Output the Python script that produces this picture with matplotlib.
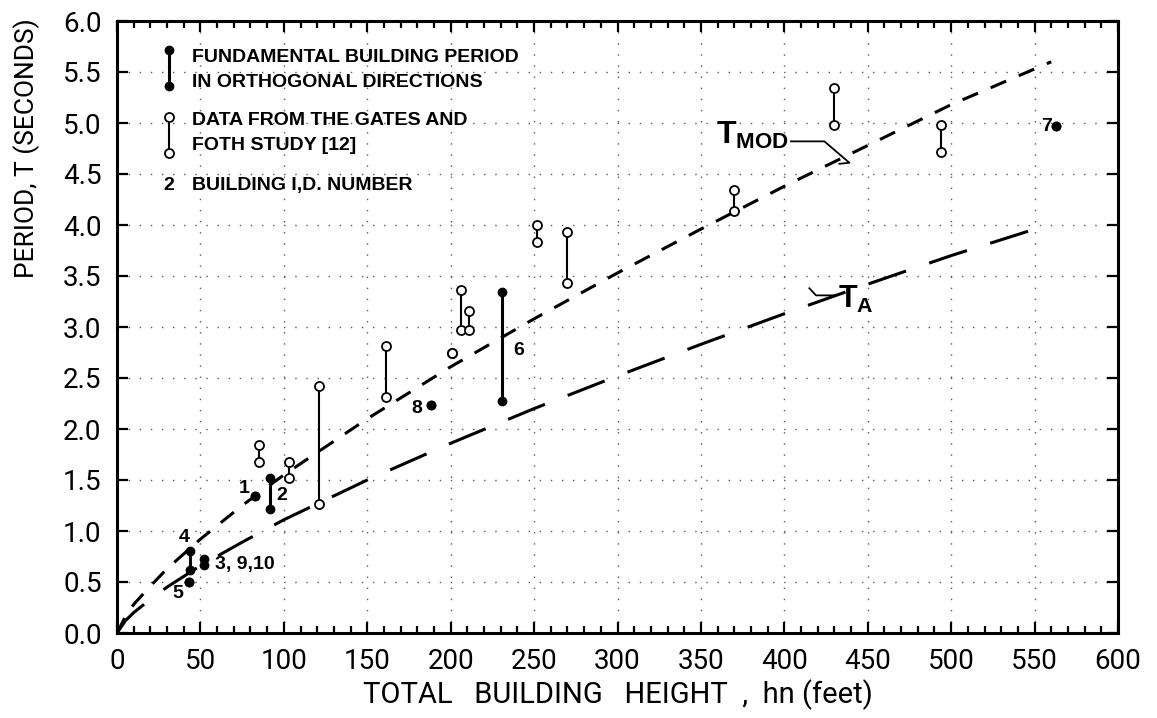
import matplotlib
matplotlib.use("Agg")
import matplotlib.pyplot as plt
from matplotlib.ticker import MultipleLocator

plt.rcParams["mathtext.fontset"] = "custom"
plt.rcParams["mathtext.bf"] = "Liberation Sans:bold"
plt.rcParams["mathtext.rm"] = "Liberation Sans"

# ---------------- data ----------------
# Curves (height in feet, period in seconds)
tmod_h = [0, 5, 10, 20, 30, 50, 75, 100, 150, 200, 250, 300, 350, 400, 450, 500, 560]
tmod_t = [0, 0.16, 0.28, 0.46, 0.63, 0.92, 1.25, 1.55, 2.10, 2.61, 3.08, 3.53, 3.96, 4.38, 4.78, 5.18, 5.60]
ta_h = [0, 5, 10, 20, 30, 50, 75, 100, 150, 200, 250, 300, 350, 400, 450, 500, 556]
ta_t = [0, 0.12, 0.20, 0.33, 0.45, 0.66, 0.89, 1.11, 1.50, 1.86, 2.20, 2.52, 2.83, 3.13, 3.42, 3.70, 3.99]

# Fundamental building periods in orthogonal directions (filled)
bld_ids = ["1", "2", "3, 9,10", "4", "5", "6", "7", "8"]
bld_h = [83, 92, 52, 44, 43, 231, 563, 188]
bld_t1 = [1.34, 1.52, 0.73, 0.80, 0.50, 3.34, 4.97, 2.24]
bld_t2 = [1.34, 1.22, 0.67, 0.62, 0.50, 2.27, 4.97, 2.24]

# Gates and Foth study (open)
gf_h = [85, 103, 121, 161, 201, 206, 211, 252, 270, 370, 430, 494]
gf_t1 = [1.84, 1.68, 2.42, 2.81, 2.75, 3.36, 3.16, 4.00, 3.93, 4.34, 5.34, 4.98]
gf_t2 = [1.68, 1.52, 1.26, 2.31, 2.75, 2.97, 2.97, 3.83, 3.43, 4.14, 4.98, 4.72]

x_ticks = [0, 50, 100, 150, 200, 250, 300, 350, 400, 450, 500, 550, 600]
y_ticks = [0.0, 0.5, 1.0, 1.5, 2.0, 2.5, 3.0, 3.5, 4.0, 4.5, 5.0, 5.5, 6.0]

# ---------------- figure ----------------
W, H = 1157, 718
fig = plt.figure(figsize=(W / 100, H / 100), dpi=100)
ax = fig.add_axes([117 / W, (H - 633) / H, (1118 - 117) / W, (633 - 21) / H])

LIGHT = dict(family=["Roboto", "DejaVu Sans"], weight="normal", color="black")
BOLD = dict(family=["Liberation Sans", "DejaVu Sans"], weight="bold", color="black")

ax.set_xlim(0, 600)
ax.set_ylim(0, 6)
ax.set_xticks(x_ticks)
ax.set_yticks(y_ticks)
ax.set_xticklabels([str(v) for v in x_ticks], fontsize=20, **LIGHT)
ax.set_yticklabels([f"{v:.1f}" for v in y_ticks], fontsize=20, **LIGHT)
ax.xaxis.set_minor_locator(MultipleLocator(10))
ax.tick_params(which="both", direction="in", top=True, right=True, width=1.6, color="black")
ax.tick_params(which="major", length=8, pad=11)
ax.tick_params(which="minor", length=5)
ax.tick_params(axis="y", which="minor", left=False, right=False)
for s in ax.spines.values():
    s.set_linewidth(2.2)

ax.grid(True, which="major", linestyle=(0, (1, 7)), color="0.35", linewidth=1.0)

# curves
ax.plot(tmod_h, tmod_t, color="black", lw=2.2, linestyle=(0, (5.5, 4.5)), zorder=3)
ax.plot(ta_h, ta_t, color="black", lw=2.2, linestyle=(0, (13, 8)), zorder=3)

# Gates & Foth open pairs
for h, a, b in zip(gf_h, gf_t1, gf_t2):
    if a != b:
        ax.plot([h, h], [a, b], color="black", lw=1.5, zorder=4)
    ax.plot([h, h], [a, b], linestyle="none", marker="o", ms=6.5, mfc="white",
            mec="black", mew=1.3, zorder=5)

# building filled pairs
for h, a, b in zip(bld_h, bld_t1, bld_t2):
    if a != b:
        ax.plot([h, h], [a, b], color="black", lw=2.2, zorder=4)
    ax.plot([h, h], [a, b], linestyle="none", marker="o", ms=6, mfc="black",
            mec="black", zorder=5)

# building labels
lab_pos = {"1": (76, 1.42), "2": (99, 1.35), "3, 9,10": (59, 0.67), "4": (40, 0.94),
           "5": (36.5, 0.39), "6": (237.5, 2.77), "7": (557, 4.97), "8": (180, 2.20)}
for k in bld_ids:
    x, y = lab_pos[k]
    ax.text(x, y, k, fontsize=14, ha="left" if k in ("3, 9,10", "6") else "center",
            va="center", zorder=6, **BOLD)

# curve labels
ax.text(359, 4.80, r"$\mathbf{T}_{\mathbf{MOD}}$", fontsize=23, ha="left", va="baseline")
ax.plot([404, 424, 439, 433], [4.82, 4.82, 4.61, 4.60], color="black", lw=1.3)
ax.text(432, 3.19, r"$\mathbf{T}_{\mathbf{A}}$", fontsize=22, ha="left", va="baseline")
ax.plot([415, 419, 430], [3.38, 3.31, 3.31], color="black", lw=1.3)

# legend block
ax.plot([31, 31], [5.716, 5.363], color="black", lw=2.2)
ax.plot([31, 31], [5.716, 5.363], linestyle="none", marker="o", ms=6, mfc="black", mec="black")
ax.plot([31, 31], [5.055, 4.709], color="black", lw=1.5)
ax.plot([31, 31], [5.055, 4.709], linestyle="none", marker="o", ms=6.5, mfc="white",
        mec="black", mew=1.3)
for txt, y in [("FUNDAMENTAL BUILDING PERIOD", 5.60), ("IN ORTHOGONAL DIRECTIONS", 5.356),
               ("DATA FROM THE GATES AND", 4.98), ("FOTH STUDY [12]", 4.735),
               ("BUILDING I,D. NUMBER", 4.343)]:
    ax.text(44.8, y, txt, fontsize=14, ha="left", va="baseline", **BOLD)
ax.text(27.6, 4.343, "2", fontsize=14, ha="left", va="baseline", **BOLD)

# axis titles
fig.text(617.5 / W, 1 - 695 / H, "TOTAL   BUILDING   HEIGHT  ,  hn (feet)", fontsize=21,
         ha="center", va="center", **LIGHT)
fig.text(27 / W, 1 - 148 / H, "PERIOD, T (SECONDS)", fontsize=19, rotation=90,
         ha="center", va="center", **LIGHT)

fig.savefig("out.png", dpi=100, facecolor="white")
